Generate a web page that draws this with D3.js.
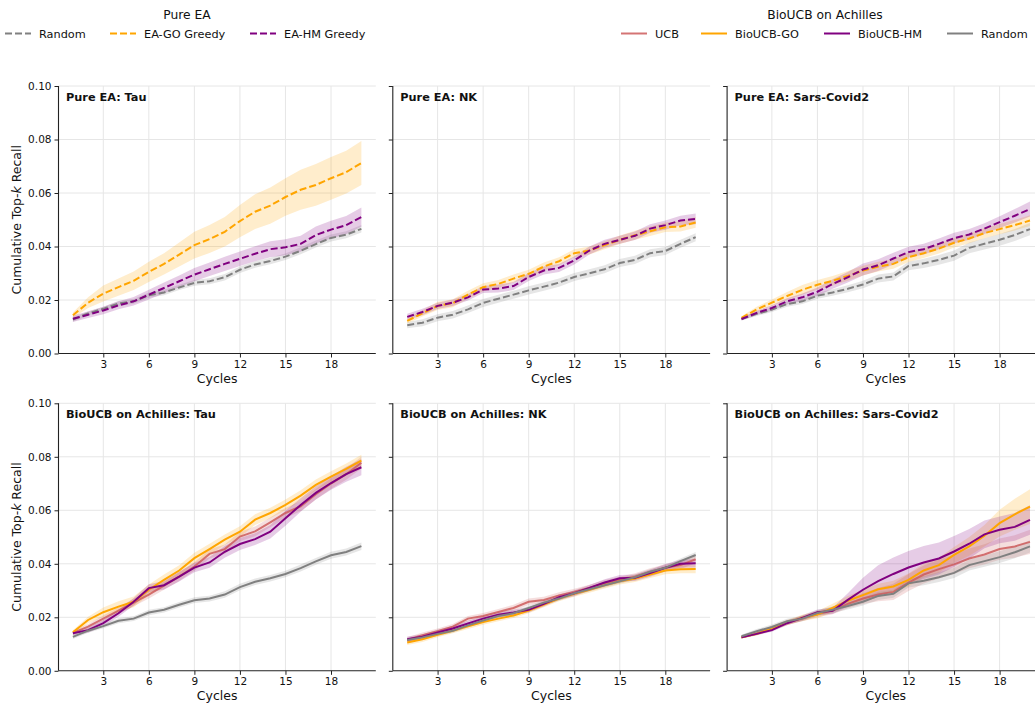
<!DOCTYPE html>
<html>
<head>
<meta charset="utf-8">
<script src="https://cdn.jsdelivr.net/npm/d3@7"></script>
<style>
  body { margin: 0; background: #fff; }
  text { font-family: "DejaVu Sans", sans-serif; fill: #111; }
</style>
</head>
<body>
<svg id="chart" width="1035" height="704"></svg>
<script>
// Data =============================================================
var cycles = [1,2,3,4,5,6,7,8,9,10,11,12,13,14,15,16,17,18,19,20];
var xTicks = [3,6,9,12,15,18];
var yTicks = [0.00,0.02,0.04,0.06,0.08,0.10];

// Pure EA: Tau
var eaTauRandom   = [0.0127,0.0150,0.0167,0.0187,0.0195,0.0218,0.0228,0.0247,0.0264,0.0270,0.0285,0.0313,0.0333,0.0346,0.0362,0.0384,0.0409,0.0432,0.0444,0.0466];
var eaTauRandomSd = [0.0008,0.0008,0.0008,0.0009,0.0009,0.0010,0.0010,0.0010,0.0011,0.0011,0.0012,0.0012,0.0012,0.0012,0.0012,0.0013,0.0013,0.0013,0.0013,0.0014];
var eaTauGO       = [0.0143,0.0190,0.0224,0.0248,0.0272,0.0305,0.0335,0.0370,0.0405,0.0428,0.0455,0.0495,0.0530,0.0553,0.0585,0.0612,0.0630,0.0655,0.0678,0.0712];
var eaTauGOSd     = [0.0010,0.0020,0.0030,0.0032,0.0035,0.0038,0.0040,0.0045,0.0050,0.0052,0.0055,0.0060,0.0065,0.0068,0.0070,0.0075,0.0078,0.0080,0.0080,0.0082];
var eaTauHM       = [0.0130,0.0145,0.0161,0.0180,0.0195,0.0220,0.0245,0.0270,0.0295,0.0315,0.0335,0.0354,0.0373,0.0390,0.0397,0.0410,0.0443,0.0463,0.0480,0.0510];
var eaTauHMSd     = [0.0012,0.0012,0.0014,0.0015,0.0016,0.0018,0.0020,0.0022,0.0025,0.0025,0.0027,0.0027,0.0028,0.0030,0.0030,0.0030,0.0032,0.0033,0.0034,0.0036];

// Pure EA: NK
var eaNkRandom    = [0.0106,0.0115,0.0134,0.0145,0.0165,0.0189,0.0205,0.0220,0.0236,0.0250,0.0265,0.0286,0.0300,0.0315,0.0338,0.0350,0.0375,0.0383,0.0410,0.0435];
var eaNkRandomSd  = [0.0012,0.0013,0.0013,0.0014,0.0014,0.0015,0.0015,0.0015,0.0015,0.0015,0.0015,0.0015,0.0015,0.0015,0.0015,0.0015,0.0015,0.0015,0.0015,0.0015];
var eaNkGO        = [0.0122,0.0150,0.0178,0.0188,0.0220,0.0248,0.0260,0.0280,0.0298,0.0325,0.0345,0.0375,0.0385,0.0405,0.0425,0.0442,0.0457,0.0472,0.0475,0.0490];
var eaNkGOSd      = [0.0010,0.0012,0.0015,0.0015,0.0015,0.0015,0.0015,0.0015,0.0015,0.0015,0.0015,0.0015,0.0015,0.0015,0.0016,0.0017,0.0018,0.0018,0.0019,0.0020];
var eaNkHM        = [0.0137,0.0155,0.0178,0.0190,0.0210,0.0239,0.0243,0.0252,0.0286,0.0310,0.0320,0.0348,0.0385,0.0410,0.0425,0.0440,0.0467,0.0480,0.0497,0.0503];
var eaNkHMSd      = [0.0012,0.0012,0.0012,0.0012,0.0012,0.0013,0.0015,0.0015,0.0015,0.0015,0.0015,0.0015,0.0015,0.0015,0.0015,0.0016,0.0016,0.0017,0.0018,0.0020];

// Pure EA: Sars-Covid2
var eaSarsRandom   = [0.0129,0.0148,0.0164,0.0185,0.0195,0.0216,0.0228,0.0242,0.0258,0.0280,0.0288,0.0327,0.0337,0.0350,0.0366,0.0395,0.0410,0.0425,0.0443,0.0465];
var eaSarsRandomSd = [0.0006,0.0008,0.0009,0.0010,0.0010,0.0011,0.0012,0.0013,0.0014,0.0015,0.0015,0.0016,0.0017,0.0018,0.0019,0.0020,0.0021,0.0022,0.0022,0.0023];
var eaSarsGO       = [0.0133,0.0165,0.0190,0.0215,0.0238,0.0257,0.0272,0.0290,0.0310,0.0325,0.0335,0.0360,0.0375,0.0392,0.0414,0.0430,0.0450,0.0465,0.0480,0.0497];
var eaSarsGOSd     = [0.0006,0.0010,0.0012,0.0015,0.0018,0.0018,0.0018,0.0018,0.0018,0.0018,0.0018,0.0018,0.0018,0.0018,0.0018,0.0018,0.0019,0.0019,0.0020,0.0020];
var eaSarsHM       = [0.0129,0.0152,0.0170,0.0195,0.0210,0.0231,0.0260,0.0285,0.0314,0.0330,0.0355,0.0379,0.0390,0.0410,0.0431,0.0445,0.0467,0.0491,0.0515,0.0540];
var eaSarsHMSd     = [0.0006,0.0008,0.0010,0.0012,0.0014,0.0016,0.0018,0.0020,0.0022,0.0022,0.0022,0.0020,0.0020,0.0020,0.0020,0.0020,0.0020,0.0022,0.0025,0.0028];

// BioUCB on Achilles: Tau
var bTauUCB       = [0.0142,0.0165,0.0195,0.0225,0.0255,0.0285,0.0318,0.0352,0.0390,0.0437,0.0455,0.0502,0.0521,0.0555,0.0590,0.0615,0.0660,0.0700,0.0735,0.0778];
var bTauUCBSd     = [0.0008,0.0010,0.0012,0.0013,0.0014,0.0015,0.0015,0.0016,0.0016,0.0017,0.0017,0.0018,0.0018,0.0018,0.0019,0.0019,0.0020,0.0020,0.0021,0.0022];
var bTauGO        = [0.0144,0.0190,0.0219,0.0240,0.0258,0.0303,0.0340,0.0375,0.0421,0.0455,0.0490,0.0520,0.0565,0.0590,0.0620,0.0655,0.0695,0.0726,0.0755,0.0786];
var bTauGOSd      = [0.0008,0.0012,0.0018,0.0020,0.0020,0.0020,0.0020,0.0020,0.0020,0.0020,0.0020,0.0020,0.0020,0.0020,0.0020,0.0020,0.0020,0.0020,0.0020,0.0022];
var bTauHM        = [0.0140,0.0152,0.0178,0.0215,0.0258,0.0309,0.0320,0.0352,0.0386,0.0405,0.0445,0.0474,0.0492,0.0520,0.0570,0.0620,0.0665,0.0702,0.0735,0.0761];
var bTauHMSd      = [0.0008,0.0010,0.0012,0.0013,0.0014,0.0015,0.0016,0.0018,0.0018,0.0020,0.0022,0.0022,0.0022,0.0025,0.0028,0.0025,0.0025,0.0025,0.0028,0.0030];
var bTauRandom    = eaTauRandom;
var bTauRandomSd  = eaTauRandomSd;

// BioUCB on Achilles: NK
var bNkUCB        = [0.0115,0.0133,0.0148,0.0165,0.0195,0.0205,0.0220,0.0235,0.0258,0.0265,0.0282,0.0295,0.0310,0.0327,0.0340,0.0352,0.0370,0.0385,0.0395,0.0417];
var bNkUCBSd      = [0.0010,0.0010,0.0010,0.0010,0.0010,0.0011,0.0011,0.0012,0.0012,0.0012,0.0012,0.0012,0.0012,0.0012,0.0012,0.0013,0.0013,0.0013,0.0014,0.0015];
var bNkGO         = [0.0106,0.0118,0.0135,0.0150,0.0166,0.0182,0.0195,0.0207,0.0225,0.0248,0.0270,0.0288,0.0303,0.0320,0.0335,0.0345,0.0360,0.0375,0.0380,0.0381];
var bNkGOSd       = [0.0010,0.0010,0.0010,0.0010,0.0010,0.0010,0.0010,0.0010,0.0010,0.0010,0.0010,0.0011,0.0011,0.0012,0.0012,0.0013,0.0013,0.0014,0.0015,0.0016];
var bNkHM         = [0.0118,0.0127,0.0143,0.0158,0.0177,0.0195,0.0210,0.0218,0.0228,0.0250,0.0275,0.0290,0.0310,0.0330,0.0346,0.0348,0.0365,0.0385,0.0400,0.0402];
var bNkHMSd       = [0.0010,0.0010,0.0010,0.0010,0.0010,0.0010,0.0010,0.0010,0.0010,0.0010,0.0010,0.0011,0.0011,0.0012,0.0012,0.0012,0.0013,0.0014,0.0015,0.0016];
var bNkRandom     = [0.0115,0.0125,0.0138,0.0150,0.0170,0.0188,0.0205,0.0215,0.0235,0.0255,0.0270,0.0290,0.0305,0.0320,0.0335,0.0350,0.0370,0.0385,0.0410,0.0433];
var bNkRandomSd   = [0.0008,0.0008,0.0008,0.0008,0.0008,0.0008,0.0008,0.0008,0.0008,0.0008,0.0008,0.0008,0.0009,0.0009,0.0009,0.0010,0.0010,0.0010,0.0010,0.0011];

// BioUCB on Achilles: Sars-Covid2
var bSarsUCB      = [0.0125,0.0140,0.0158,0.0180,0.0195,0.0212,0.0225,0.0250,0.0270,0.0285,0.0295,0.0330,0.0360,0.0380,0.0398,0.0420,0.0435,0.0455,0.0465,0.0482];
var bSarsUCBSd    = [0.0004,0.0006,0.0008,0.0009,0.0010,0.0012,0.0014,0.0016,0.0020,0.0025,0.0030,0.0032,0.0034,0.0035,0.0036,0.0037,0.0038,0.0040,0.0042,0.0045];
var bSarsGO       = [0.0125,0.0138,0.0160,0.0180,0.0198,0.0210,0.0235,0.0262,0.0283,0.0305,0.0315,0.0340,0.0375,0.0395,0.0433,0.0465,0.0505,0.0552,0.0585,0.0614];
var bSarsGOSd     = [0.0004,0.0006,0.0008,0.0010,0.0012,0.0014,0.0016,0.0018,0.0020,0.0020,0.0022,0.0024,0.0026,0.0028,0.0030,0.0035,0.0040,0.0050,0.0058,0.0065];
var bSarsHM       = [0.0125,0.0138,0.0152,0.0178,0.0198,0.0219,0.0224,0.0265,0.0303,0.0335,0.0362,0.0386,0.0405,0.0420,0.0446,0.0475,0.0510,0.0527,0.0538,0.0564];
var bSarsHMSd     = [0.0004,0.0005,0.0006,0.0008,0.0010,0.0010,0.0012,0.0025,0.0045,0.0060,0.0062,0.0062,0.0062,0.0060,0.0058,0.0055,0.0052,0.0050,0.0052,0.0055];
var bSarsRandom   = eaSarsRandom;
var bSarsRandomSd = eaSarsRandomSd;

var colRandom = "#808080", colGO = "#FFA500", colHM = "#800080", colUCB = "#CD5C5C";

// Layout =============================================================
var svg = d3.select("#chart");
var panelW = 317.3, gapX = 17, left0 = 58.5;
var rowTop = [86, 403.3], panelH = 267.5;

var panels = [
	{ title: "Pure EA: Tau", row: 0, col: 0, dashed: true, series: [
		{ c: colRandom, m: eaTauRandom, s: eaTauRandomSd },
		{ c: colGO, m: eaTauGO, s: eaTauGOSd },
		{ c: colHM, m: eaTauHM, s: eaTauHMSd } ] },
	{ title: "Pure EA: NK", row: 0, col: 1, dashed: true, series: [
		{ c: colRandom, m: eaNkRandom, s: eaNkRandomSd },
		{ c: colGO, m: eaNkGO, s: eaNkGOSd },
		{ c: colHM, m: eaNkHM, s: eaNkHMSd } ] },
	{ title: "Pure EA: Sars-Covid2", row: 0, col: 2, dashed: true, series: [
		{ c: colRandom, m: eaSarsRandom, s: eaSarsRandomSd },
		{ c: colGO, m: eaSarsGO, s: eaSarsGOSd },
		{ c: colHM, m: eaSarsHM, s: eaSarsHMSd } ] },
	{ title: "BioUCB on Achilles: Tau", row: 1, col: 0, dashed: false, series: [
		{ c: colUCB, m: bTauUCB, s: bTauUCBSd, o: 0.85 },
		{ c: colGO, m: bTauGO, s: bTauGOSd },
		{ c: colHM, m: bTauHM, s: bTauHMSd },
		{ c: colRandom, m: bTauRandom, s: bTauRandomSd } ] },
	{ title: "BioUCB on Achilles: NK", row: 1, col: 1, dashed: false, series: [
		{ c: colUCB, m: bNkUCB, s: bNkUCBSd, o: 0.85 },
		{ c: colGO, m: bNkGO, s: bNkGOSd },
		{ c: colHM, m: bNkHM, s: bNkHMSd },
		{ c: colRandom, m: bNkRandom, s: bNkRandomSd } ] },
	{ title: "BioUCB on Achilles: Sars-Covid2", row: 1, col: 2, dashed: false, series: [
		{ c: colUCB, m: bSarsUCB, s: bSarsUCBSd, o: 0.85 },
		{ c: colGO, m: bSarsGO, s: bSarsGOSd },
		{ c: colHM, m: bSarsHM, s: bSarsHMSd },
		{ c: colRandom, m: bSarsRandom, s: bSarsRandomSd } ] }
];

panels.forEach(function (p) {
	var x0 = left0 + p.col * (panelW + gapX);
	var y0 = rowTop[p.row];
	var x = d3.scaleLinear().domain([0.05, 20.95]).range([x0, x0 + panelW]);
	var y = d3.scaleLinear().domain([0, 0.10]).range([y0 + panelH, y0]);
	var g = svg.append("g");

	// grid
	g.selectAll(".vg").data(xTicks).enter().append("line")
		.attr("x1", function (d) { return x(d); }).attr("x2", function (d) { return x(d); })
		.attr("y1", y0).attr("y2", y0 + panelH)
		.attr("stroke", "#e6e6e6").attr("stroke-width", 1);
	g.selectAll(".hg").data(yTicks.slice(1)).enter().append("line")
		.attr("x1", x0).attr("x2", x0 + panelW)
		.attr("y1", function (d) { return y(d); }).attr("y2", function (d) { return y(d); })
		.attr("stroke", "#e6e6e6").attr("stroke-width", 1);

	var area = d3.area()
		.x(function (d, i) { return x(cycles[i]); })
		.y0(function (d) { return y(d[0] - d[1]); })
		.y1(function (d) { return y(d[0] + d[1]); });
	var line = d3.line()
		.x(function (d, i) { return x(cycles[i]); })
		.y(function (d) { return y(d); });

	p.series.forEach(function (s) {
		g.append("path")
			.datum(s.m.map(function (v, i) { return [v, s.s[i]]; }))
			.attr("d", area)
			.attr("fill", s.c).attr("fill-opacity", 0.2);
	});
	p.series.forEach(function (s) {
		g.append("path")
			.datum(s.m)
			.attr("d", line)
			.attr("fill", "none")
			.attr("stroke", s.c)
			.attr("stroke-opacity", s.o || 1)
			.attr("stroke-width", 2)
			.attr("stroke-dasharray", p.dashed ? "7,3" : null);
	});

	// axes
	var xAxis = d3.axisBottom(x).tickValues(xTicks).tickSize(4).tickPadding(3);
	var yAxis = d3.axisLeft(y).tickValues(yTicks).tickSize(4).tickPadding(3)
		.tickFormat(p.col === 0 ? d3.format(".2f") : "");
	var xa = g.append("g").attr("transform", "translate(0," + (y0 + panelH) + ")").call(xAxis);
	var ya = g.append("g").attr("transform", "translate(" + x0 + ",0)").call(yAxis);
	[xa, ya].forEach(function (a) {
		a.select(".domain").attr("stroke", "#222").attr("stroke-width", 1.1);
		a.selectAll(".tick line").attr("stroke", "#222");
		a.selectAll("text").style("font-size", "10.5px").attr("fill", "#111");
	});
	xa.select(".domain").attr("d", "M" + x0 + ",0H" + (x0 + panelW));
	ya.select(".domain").attr("d", "M0," + y0 + "V" + (y0 + panelH));

	g.append("text")
		.attr("x", x0 + panelW / 2).attr("y", y0 + panelH + 29)
		.attr("text-anchor", "middle").style("font-size", "12.5px")
		.text("Cycles");

	g.append("text")
		.attr("x", x0 + 7.5).attr("y", y0 + 15)
		.style("font-size", "11.3px").style("font-weight", "bold")
		.text(p.title);

	if (p.col === 0) {
		var yl = g.append("text")
			.attr("transform", "translate(21," + (y0 + panelH / 2) + ") rotate(-90)")
			.attr("text-anchor", "middle").style("font-size", "12.5px");
		yl.append("tspan").text("Cumulative Top-");
		yl.append("tspan").style("font-style", "italic").text("k");
		yl.append("tspan").text(" Recall");
	}
});

// Legends =============================================================
var legEA = [
	{ name: "Random", c: colRandom, x: 5 },
	{ name: "EA-GO Greedy", c: colGO, x: 110 },
	{ name: "EA-HM Greedy", c: colHM, x: 250 }
];
var legUCB = [
	{ name: "UCB", c: colUCB, x: 621, o: 0.85 },
	{ name: "BioUCB-GO", c: colGO, x: 701 },
	{ name: "BioUCB-HM", c: colHM, x: 824 },
	{ name: "Random", c: colRandom, x: 947 }
];

function drawLegend(title, cx, items, dashed) {
	var lg = svg.append("g");
	lg.append("text").attr("x", cx).attr("y", 19)
		.attr("text-anchor", "middle").style("font-size", "12.3px").text(title);
	items.forEach(function (it) {
		lg.append("line")
			.attr("x1", it.x).attr("x2", it.x + 26)
			.attr("y1", 33.5).attr("y2", 33.5)
			.attr("stroke", it.c).attr("stroke-width", 2)
			.attr("stroke-opacity", it.o || 1)
			.attr("stroke-dasharray", dashed ? "7,3" : null);
		lg.append("text").attr("x", it.x + 34).attr("y", 37.5)
			.style("font-size", "11.3px").text(it.name);
	});
}
drawLegend("Pure EA", 187, legEA, true);
drawLegend("BioUCB on Achilles", 825, legUCB, false);
</script>
</body>
</html>
